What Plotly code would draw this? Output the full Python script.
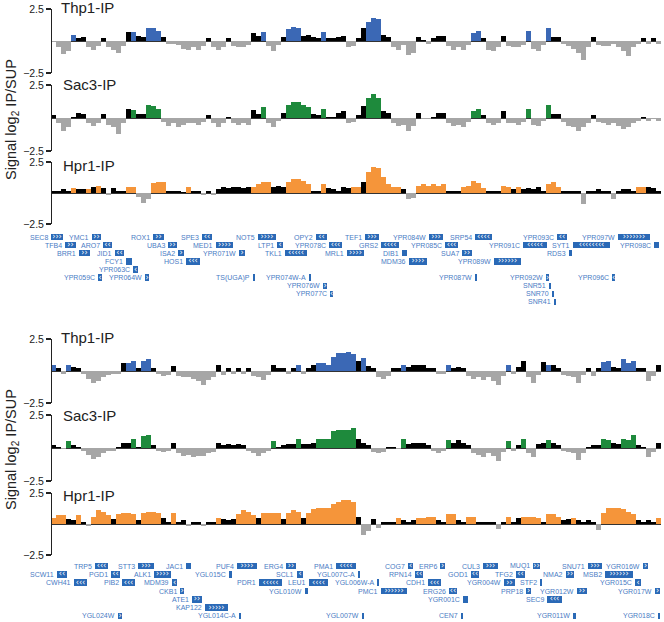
import plotly.graph_objects as go

# ---------------- data ----------------
# signal bins: position grid (arbitrary position units along the region)
BIN_START = 51
BIN_STEP = 5

THP1_TOP = [
    -0.1, -0.5, -1.0, -0.8, 0.5, 0.2, 0.3, -0.5, -0.7, -0.4,
    0.2, -0.5, -0.7, -0.9, -0.4, 0.7, 0.7, 0.4, 0.3, 1.0,
    1.0, 0.8, 0.3, -0.2, -0.2, -0.3, -0.6, -0.7, -0.5, -0.7,
    -0.4, 0.2, -0.5, -0.7, -0.5, 0.2, -0.4, -0.5, -0.5, -0.3,
    0.6, 0.4, 0.7, -0.4, -0.8, -0.3, 0.3, 0.9, 1.1, 1.0,
    0.4, 0.5, 0.3, 0.2, 0.7, 0.2, 0.2, 0.3, 0.4, -0.5,
    -0.4, 0.2, 1.0, 1.5, 1.8, 1.7, 0.5, 0.3, -0.5, -0.7,
    -0.3, -1.1, -0.9, 0.3, 0.1, -0.2, 0.2, 0.4, 0.4, -0.4,
    -0.7, -0.5, -0.7, -0.3, 0.6, 0.8, 0.2, -0.7, -0.8, -0.5,
    0.4, -0.4, -0.5, -0.5, -0.3, 0.8, -0.6, -0.8, -0.3, 1.0,
    0.3, 0.3, -0.2, -0.4, -0.6, -0.9, -1.5, -0.5, 0.3, -0.3,
    -0.4, -0.4, -0.2, -0.5, -0.8, -1.2, -0.5, -0.2, 0.2, -0.2,
    0.2, -0.2]
SAC3_TOP = [
    0.2, -0.4, -1.0, -0.7, 0.1, 0.4, 0.3, -0.4, -0.6, -0.4,
    0.3, -0.5, -0.7, -1.2, -0.4, 0.7, 0.6, 0.3, 0.3, 1.0,
    0.9, 0.7, -0.3, -0.6, -0.4, -0.7, -0.5, -0.4, -0.4, -0.5,
    -0.3, 0.2, -0.4, -0.7, -0.4, 0.1, -0.4, -0.5, -0.4, -0.5,
    0.6, 0.3, 0.8, -0.4, -0.7, -0.2, 0.4, 1.0, 1.2, 1.2,
    1.0, 0.8, 0.3, 0.2, 0.7, 0.1, 0.1, 0.4, 0.5, -0.4,
    -0.3, 0.2, 0.9, 1.5, 1.8, 1.5, 0.5, 0.4, -0.4, -0.6,
    -0.5, -1.0, -0.6, 0.4, -0.1, -0.1, 0.1, 0.4, 0.4, -0.4,
    -0.6, -0.5, -0.7, -0.3, 0.5, 0.7, 0.2, -0.4, -0.5, -0.4,
    0.5, -0.4, -0.4, -0.5, -0.3, 0.7, -0.5, -0.6, -0.2, 1.0,
    0.3, 0.3, -0.3, -0.6, -0.7, -1.0, -0.7, -0.4, 0.2, -0.3,
    -0.4, -0.5, -0.4, -0.6, -0.8, -0.7, -0.4, -0.2, 0.1, -0.2,
    -0.1, -0.2]
HPR1_TOP = [
    0.2, 0.2, 0.3, 0.2, 0.4, 0.3, 0.3, 0.3, 0.5, 0.6,
    0.4, -0.2, 0.4, 0.2, 0.2, 0.5, 0.5, -0.3, -0.8, -0.5,
    0.8, 0.9, 0.9, 0.2, 0.2, 0.2, 0.1, 0.5, 0.2, 0.2,
    -0.2, 0.2, -0.2, 0.3, 0.5, 0.4, 0.5, 0.5, 0.4, 0.5,
    0.5, 0.7, 0.9, 0.9, 0.5, 0.6, 0.5, 0.9, 1.1, 1.1,
    1.0, 0.7, 0.2, 0.2, 0.7, 0.4, 0.3, 0.2, 0.5, 0.4,
    0.5, 0.5, 0.9, 1.7, 2.1, 2.0, 1.3, 0.7, 0.5, 0.5,
    0.3, -0.5, -0.4, 0.6, 0.7, 0.6, 0.7, 0.6, 0.7, 0.2,
    0.2, 0.2, 0.5, 0.6, 1.0, 0.8, 0.4, 0.2, 0.2, 0.2,
    0.6, 0.5, 0.3, 0.5, 0.3, 0.4, 0.3, 0.5, 0.2, 0.7,
    0.9, 0.5, 0.2, 0.2, 0.2, 0.2, -0.9, 0.2, 0.2, 0.3,
    0.2, 0.2, -0.5, 0.2, 0.3, 0.3, 0.2, 0.5, 0.5, 0.5,
    0.4, 0.2]
THP1_BOT = [
    0.5, 0.2, -0.2, 0.5, 0.3, 0.2, -0.2, -0.6, -0.9, -0.8,
    -0.5, -0.3, -0.2, -0.2, 0.6, 0.6, 0.8, 0.2, 0.8, 0.9,
    0.2, -0.2, -0.4, -0.3, 0.4, -0.4, -0.5, -0.5, -0.6, -0.8,
    -1.1, -0.7, -0.5, 0.5, -0.3, 0.2, -0.2, 0.2, -0.2, 0.2,
    -0.4, -0.5, -0.7, -0.3, 0.5, 0.2, 0.2, -0.2, 0.2, 0.5,
    -0.2, 0.2, 0.5, 0.6, 0.6, 0.5, 1.1, 1.4, 1.4, 1.5,
    1.3, 0.8, 1.0, 0.4, 0.2, -0.5, -0.6, -0.4, 0.2, 0.2,
    0.5, 0.3, 0.5, 0.5, 0.5, 0.2, 0.2, -0.2, -0.2, 0.5,
    0.2, 0.3, 0.2, -0.4, -0.6, -0.5, -0.7, -0.5, -0.8, -1.1,
    -0.4, 0.5, -0.2, 0.3, 0.8, -0.5, -0.9, -0.3, 0.7, 0.5,
    0.5, 0.2, -0.3, -0.4, -0.5, -0.9, -0.3, 0.2, -0.4, 0.2,
    0.7, 0.8, 0.3, 0.2, 0.9, 0.6, 0.8, 0.2, 0.2, -0.8,
    -0.4, 0.5]
SAC3_BOT = [
    0.2, 0.1, -0.1, 0.5, 0.2, 0.1, -0.2, -0.5, -0.8, -0.7,
    -0.4, -0.2, -0.2, 0.1, 0.4, 0.4, 0.7, 0.1, 0.9, 1.0,
    0.2, -0.2, -0.3, -0.2, 0.4, -0.4, -0.6, -0.5, -0.7, -0.6,
    -0.6, -0.4, -0.3, 0.4, 0.2, 0.3, 0.2, 0.3, 0.2, -0.2,
    -0.4, -0.6, -0.4, -0.2, 0.5, 0.1, 0.2, 0.3, 0.3, 0.7,
    0.3, 0.3, 0.4, 0.7, 0.7, 0.7, 1.3, 1.4, 1.4, 1.4,
    1.5, 0.7, 0.4, 0.2, -0.3, -0.4, -0.3, 0.1, 0.1, -0.1,
    0.7, 0.3, 0.4, 0.4, 0.4, 0.2, -0.2, -0.4, -0.2, 0.6,
    0.4, 0.6, 0.4, 0.2, -0.4, -0.5, -0.7, -0.4, -0.6, -1.0,
    -0.3, 0.5, -0.2, 0.2, 0.7, -0.4, -0.7, 0.3, 0.4, 0.6,
    0.4, 0.2, -0.2, -0.3, -0.4, -0.9, -0.4, 0.1, 0.2, 0.2,
    0.7, 0.6, 0.4, 0.3, 0.7, 0.6, 1.0, 0.2, 0.1, -0.7,
    -0.3, 0.4]
HPR1_BOT = [
    0.5, 0.7, 0.7, 0.4, 0.3, 0.7, 0.2, -0.2, 0.6, 1.1,
    1.0, 0.7, 0.4, 0.8, 0.9, 0.9, 0.8, 0.3, 0.9, 1.0,
    1.0, 0.9, 0.5, 0.2, 0.9, 0.2, 0.3, -0.2, 0.2, 0.2,
    -0.2, 0.2, 0.2, 0.5, 0.4, 0.3, 0.4, 0.8, 1.1, 1.0,
    0.7, 0.5, 0.9, 0.9, 0.9, 0.9, 0.4, 0.9, 1.1, 1.0,
    0.5, 0.9, 1.2, 1.3, 1.3, 1.3, 1.6, 1.8, 1.9, 1.9,
    1.8, 0.6, -0.9, -0.6, 0.4, -0.3, 0.2, 0.2, 0.2, 0.5,
    0.3, 0.2, 0.3, 0.5, 0.5, 0.6, 0.6, 0.3, 0.2, 0.8,
    0.8, 0.3, 0.2, 0.6, 0.6, 0.2, 0.2, 0.2, 0.2, -0.4,
    0.2, 0.6, 0.2, 0.5, 0.6, 0.6, 0.6, 0.5, 0.2, 0.8,
    0.8, 0.6, 0.3, 0.4, 0.5, 0.3, 0.2, 0.3, 0.2, -0.5,
    0.9, 1.3, 1.3, 1.3, 1.2, 1.0, 0.8, 0.3, 0.2, 0.3,
    0.2, 0.5]

# bin-index ranges (inclusive) where the positive signal lies over a bound gene
THP1_TOP_BOUND = [(4, 4), (16, 16), (19, 21), (42, 42), (47, 49), (54, 54),
                  (63, 65), (84, 85), (95, 95), (99, 99)]
SAC3_TOP_BOUND = [(16, 16), (19, 21), (42, 42), (47, 51), (54, 54), (63, 65),
                  (84, 85), (95, 95), (99, 99)]
HPR1_TOP_BOUND = [(4, 4), (7, 7), (9, 9), (15, 16), (20, 22), (27, 27), (40, 43),
                  (47, 51), (54, 54), (60, 61), (63, 69), (73, 78), (82, 86),
                  (90, 91), (93, 93), (99, 101), (117, 118)]
THP1_BOT_BOUND = [(0, 0), (3, 3), (15, 16), (18, 19), (49, 49), (53, 60), (62, 62),
                  (70, 70), (79, 79), (91, 91), (99, 99), (110, 111), (114, 116)]
SAC3_BOT_BOUND = [(3, 3), (16, 16), (18, 19), (44, 44), (49, 49), (53, 60),
                  (70, 70), (79, 79), (91, 91), (94, 94), (99, 99), (110, 111),
                  (114, 116)]
HPR1_BOT_BOUND = [(0, 2), (5, 5), (8, 11), (13, 16), (18, 21), (24, 24), (33, 33),
                  (37, 40), (42, 45), (47, 49), (51, 60), (69, 69), (73, 76),
                  (79, 80), (83, 84), (91, 91), (94, 97), (99, 101), (104, 104),
                  (110, 116), (121, 121)]

TRACK_NAMES = ["Thp1-IP", "Sac3-IP", "Hpr1-IP"]
TICK_VALUES = [-2.5, 2.5]
TICK_LABELS = ["\u22122.5", "2.5"]

# genes: (name, row, start, end, strand)
GENES_TOP = [
    ("SEC8", 0, 51, 63, "+"), ("YMC1", 0, 92, 101, "+"), ("ROX1", 0, 153, 164, "+"),
    ("SPE3", 0, 202, 212, "-"), ("NOT5", 0, 258, 276, "+"), ("OPY2", 0, 316, 327, "-"),
    ("TEF1", 0, 365, 379, "+"), ("YPR084W", 0, 429, 443, "+"), ("SRP54", 0, 475, 492, "-"),
    ("YPR093C", 0, 557, 567, "-"), ("YPR097W", 0, 618, 650, "+"),
    ("TFB4", 1, 65, 76, "+"), ("ARO7", 1, 103, 112, "-"), ("UBA3", 1, 168, 177, "+"),
    ("MED1", 1, 216, 233, "+"), ("LTP1", 1, 277, 283, "-"), ("YPR078C", 1, 329, 342, "-"),
    ("GRS2", 1, 381, 399, "-"), ("YPR085C", 1, 445, 458, "-"), ("YPR091C", 1, 523, 547, "-"),
    ("SYT1", 1, 573, 610, "-"), ("YPR098C", 1, 654, 659, ""),
    ("BRR1", 2, 79, 90, "+"), ("JID1", 2, 115, 124, "-"), ("ISA2", 2, 178, 184, "+"),
    ("YPR071W", 2, 239, 245, "+"), ("TKL1", 2, 285, 307, "-"), ("MRL1", 2, 347, 364, "+"),
    ("DIB1", 2, 402, 407, ""), ("SUA7", 2, 462, 472, "+"), ("RDS3", 2, 569, 572, ""),
    ("FCY1", 3, 126, 132, ""), ("HOS1", 3, 186, 200, "-"), ("MDM36", 3, 409, 427, "+"),
    ("YPR089W", 3, 494, 521, "+"),
    ("YPR063C", 4, 133, 138, "-"),
    ("YPR059C", 5, 98, 102, "-"), ("YPR064W", 5, 145, 149, "+"),
    ("TS(UGA)P", 5, 253, 254.5, ""), ("YPR074W-A", 5, 309, 310.5, ""),
    ("YPR087W", 5, 475, 477, ""), ("YPR092W", 5, 546, 549, "+"),
    ("YPR096C", 5, 612, 615, "-"),
    ("YPR076W", 6, 323, 327, "+"), ("SNR51", 6, 549, 550.5, ""),
    ("YPR077C", 7, 330, 333, "-"), ("SNR70", 7, 552, 553.5, ""),
    ("SNR41", 8, 554, 555.5, ""),
]
GENES_BOT = [
    ("TRP5", 0, 95, 108, "-"), ("STT3", 0, 138, 154, "+"), ("JAC1", 0, 186, 191, ""),
    ("PUF4", 0, 237, 257, "+"), ("ERG4", 0, 286, 296, "+"), ("PMA1", 0, 336, 356, "-"),
    ("COG7", 0, 408, 413, "-"), ("ERP6", 0, 440, 445, "+"), ("CUL3", 0, 483, 498, "+"),
    ("MUQ1", 0, 533, 540, "+"), ("SNU71", 0, 588, 602, "+"), ("YGR016W", 0, 643, 648, "+"),
    ("SCW11", 1, 57, 67, "-"), ("PGD1", 1, 111, 120, "-"), ("ALK1", 1, 154, 171, "+"),
    ("YGL015C", 1, 229, 232, ""), ("SCL1", 1, 297, 303, "-"), ("YGL007C-A", 1, 358, 359.5, ""),
    ("RPN14", 1, 415, 423, "-"), ("GOD1", 1, 471, 479, "-"), ("TFG2", 1, 516, 525, "-"),
    ("NMA2", 1, 566, 574, "+"), ("MSB2", 1, 605, 633, "+"),
    ("CWH41", 2, 74, 87, "-"), ("PIB2", 2, 122, 135, "-"), ("MDM39", 2, 172, 177, "-"),
    ("PDR1", 2, 259, 282, "-"), ("LEU1", 2, 309, 328, "-"), ("YGL006W-A", 2, 377, 378.5, ""),
    ("CDH1", 2, 428, 441, "-"), ("YGR004W", 2, 504, 515, "+"), ("STF2", 2, 540, 542, ""),
    ("YGR015C", 2, 635, 641, "-"),
    ("CKB1", 3, 180, 184, "+"), ("YGL010W", 3, 305, 308, ""), ("PMC1", 3, 381, 407, "+"),
    ("ERG26", 3, 449, 457, "-"), ("PRP18", 3, 526, 531, "+"), ("YGR012W", 3, 577, 587, "+"),
    ("YGR017W", 3, 655, 660, "+"),
    ("ATE1", 4, 192, 202, "+"), ("YGR001C", 4, 463, 468, ""), ("SEC9", 4, 547, 562, "-"),
    ("KAP122", 5, 205, 228, "+"),
    ("YGL024W", 6, 118, 122, "+"), ("YGL014C-A", 6, 239, 240.5, ""),
    ("YGL007W", 6, 362, 364, ""), ("CEN7", 6, 461, 462.5, ""),
    ("YGR011W", 6, 573, 576, ""), ("YGR018C", 6, 658, 660, ""),
]

# ---------------- styling ----------------
W, H = 664, 622
FONT = "Liberation Sans, Arial, Helvetica, sans-serif"
BLUE, GREEN, ORANGE = "#3b68b5", "#1e8a3c", "#f5953a"
GREY = "#a6a6a6"
BOX = "#2a69b6"
LABEL = "#4a7cc4"


def py(px):
    return 1 - px / H


fig = go.Figure()

# (values, bound ranges, colour, top px, bottom px of the ±2.5 axis)
tracks = [
    (THP1_TOP, THP1_TOP_BOUND, BLUE, 9, 73),
    (SAC3_TOP, SAC3_TOP_BOUND, GREEN, 85, 151),
    (HPR1_TOP, HPR1_TOP_BOUND, ORANGE, 162, 224),
    (THP1_BOT, THP1_BOT_BOUND, BLUE, 339, 403),
    (SAC3_BOT, SAC3_BOT_BOUND, GREEN, 415, 481),
    (HPR1_BOT, HPR1_BOT_BOUND, ORANGE, 493, 555),
]

layout_axes = {}
for k, (vals, bound, col, top, bot) in enumerate(tracks):
    positions = [BIN_START + BIN_STEP * (i + 0.5) for i in range(len(vals))]
    colours = []
    for i, v in enumerate(vals):
        if v < 0:
            colours.append(GREY)
        elif any(a <= i <= b for a, b in bound):
            colours.append(col)
        else:
            colours.append("#000000")
    yname = "y" if k == 0 else f"y{k + 1}"
    fig.add_trace(go.Bar(
        x=positions, y=vals, width=BIN_STEP, xaxis="x", yaxis=yname,
        marker=dict(color=colours, line=dict(width=0)),
        showlegend=False, hoverinfo="skip"))
    key = "yaxis" if k == 0 else f"yaxis{k + 1}"
    layout_axes[key] = dict(
        domain=[py(bot), py(top)], range=[-2.5, 2.5], anchor="free", position=51 / W,
        showline=True, linecolor="#222", linewidth=1.3, ticks="outside", ticklen=5,
        tickwidth=1.2, tickcolor="#222", tickvals=TICK_VALUES, ticktext=TICK_LABELS,
        tickfont=dict(family=FONT, size=10.5, color="#222"), showgrid=False,
        zeroline=True, zerolinecolor="#333", zerolinewidth=1, fixedrange=True,
        automargin=False)

annotations = []
label_y = [8, 85, 165, 337, 415, 495]
label_x = [59, 61, 61, 59, 61, 61]
for k in range(6):
    annotations.append(dict(
        text=TRACK_NAMES[k % 3], x=label_x[k] / W, y=py(label_y[k]), xref="paper",
        yref="paper", xanchor="left", yanchor="middle", showarrow=False,
        font=dict(family=FONT, size=15, color="#222")))

for cy in (120, 450):
    annotations.append(dict(
        text="Signal log<sub>2</sub> IP/SUP", x=12 / W, y=py(cy), xref="paper",
        yref="paper", xanchor="center", yanchor="middle", textangle=-90,
        showarrow=False, font=dict(family=FONT, size=14.5, color="#222")))

# gene tracks
gene_panels = [(GENES_TOP, "y7", "yaxis7", 233, 306, 9),
               (GENES_BOT, "y8", "yaxis8", 562, 620, 7)]
for genes, yname, key, top, bot, nrows in gene_panels:
    bx, by, bb, cx, cy, ct = [], [], [], [], [], []
    for name, row, s, e, strand in genes:
        bx.append(max(e - s, 1.5))
        by.append(-row)
        bb.append(s)
        if strand:
            n = max(1, int(round((e - s) / 4.6)))
            cx.append((s + e) / 2)
            cy.append(-row)
            ct.append(("\u203a" if strand == "+" else "\u2039") * n)
        annotations.append(dict(
            text=name, x=s, y=-row, xref="x", yref=yname, xanchor="right",
            yanchor="middle", xshift=-1, showarrow=False,
            font=dict(family=FONT, size=7, color=LABEL)))
    fig.add_trace(go.Bar(
        x=bx, y=by, base=bb, orientation="h", width=0.78, xaxis="x", yaxis=yname,
        marker=dict(color=BOX, line=dict(width=0)), showlegend=False,
        hoverinfo="skip"))
    fig.add_trace(go.Scatter(
        x=cx, y=cy, text=ct, mode="text", xaxis="x", yaxis=yname,
        textfont=dict(family="DejaVu Sans, sans-serif", size=8, color="white"),
        showlegend=False, hoverinfo="skip", cliponaxis=False))
    layout_axes[key] = dict(domain=[py(bot), py(top)], range=[-(nrows - 0.5), 0.5],
                            visible=False, fixedrange=True, automargin=False)

fig.update_layout(
    width=W, height=H, margin=dict(l=0, r=0, t=0, b=0, autoexpand=False),
    paper_bgcolor="white", plot_bgcolor="white", barmode="overlay", bargap=0,
    xaxis=dict(domain=[51 / W, 661 / W], range=[51, 661], visible=False,
               fixedrange=True, automargin=False),
    annotations=annotations, showlegend=False, hovermode=False,
    **layout_axes)

# the page's default 8px body margin would shift the chart; remove it
fig.write_html(
    "out.html",
    config={"displayModeBar": False, "staticPlot": True},
    post_script="document.body.style.margin='0px';"
                "document.body.style.overflow='hidden';")
